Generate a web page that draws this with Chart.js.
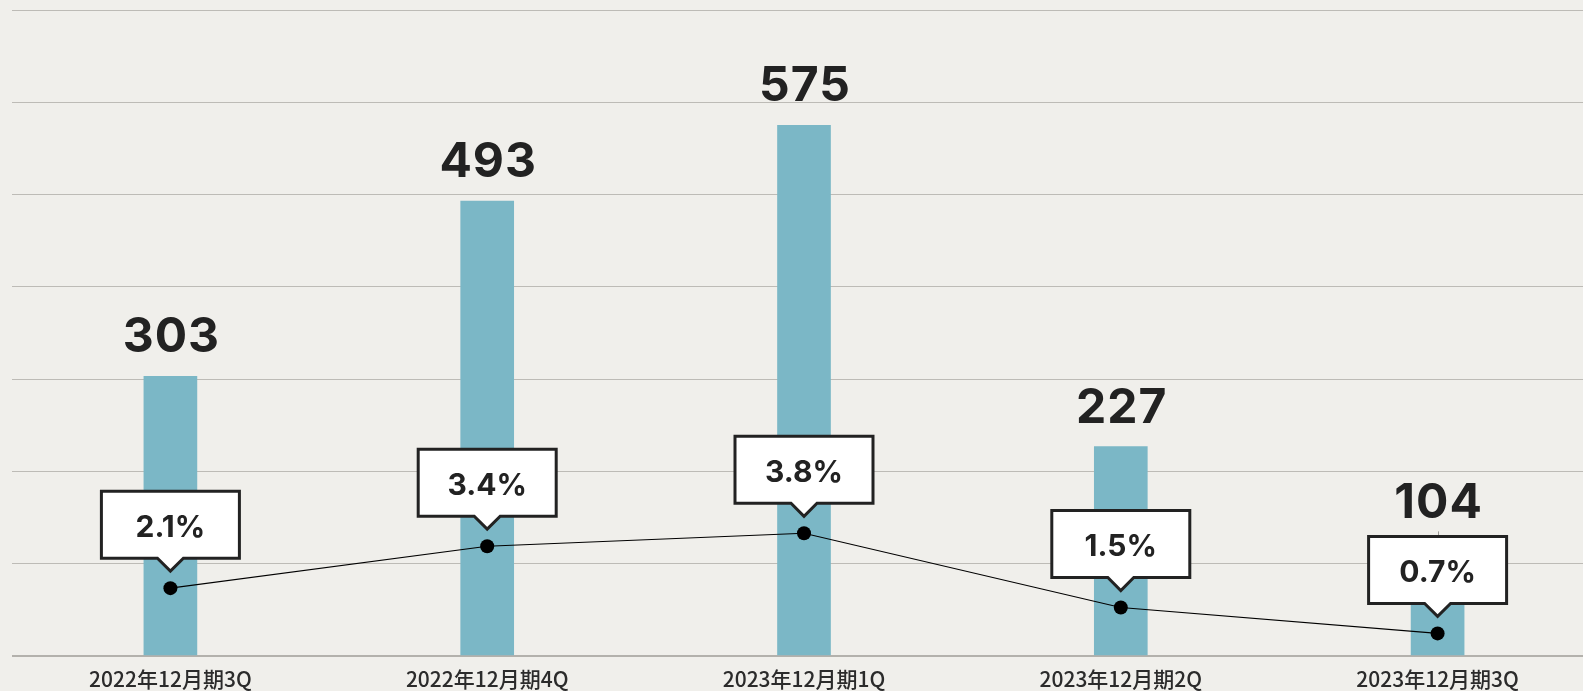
<!DOCTYPE html>
<html>
<head>
<meta charset="utf-8">
<script src="https://cdn.jsdelivr.net/npm/chart.js@4.4.1/dist/chart.umd.min.js"></script>
<style>
  html, body { margin: 0; padding: 0; background: #f0efeb; overflow: hidden; }
  #wrap { width: 1603px; height: 691px; }
</style>
</head>
<body>
<div id="wrap"><canvas id="c" width="1603" height="691"></canvas></div>
<script>
const categories = ['2022年12月期3Q', '2022年12月期4Q', '2023年12月期1Q', '2023年12月期2Q', '2023年12月期3Q'];
const barValues = [303, 493, 575, 227, 104];
const ratioValues = [2.1, 3.4, 3.8, 1.5, 0.7];
const ratioLabels = ['2.1%', '3.4%', '3.8%', '1.5%', '0.7%'];

const BW = 138, BH = 67, PH = 13, PW = 13, GAP = 17;

const valueLabelPlugin = {
  id: 'valueLabels',
  afterDatasetsDraw(chart) {
    const ctx = chart.ctx;
    const barMeta = chart.getDatasetMeta(1);
    const lineMeta = chart.getDatasetMeta(0);
    const boxTops = lineMeta.data.map(pt => pt.y - GAP - PH - BH);

    ctx.save();
    ctx.font = 'bold 48px Inter';
    ctx.letterSpacing = '1px';
    ctx.fillStyle = '#222222';
    ctx.textAlign = 'center';
    ctx.textBaseline = 'alphabetic';
    barMeta.data.forEach((bar, i) => {
      let y = bar.y - 24;
      const limit = boxTops[i] - 18;
      if (y > limit) {
        y = limit;
        ctx.save();
        ctx.strokeStyle = '#9a9894';
        ctx.lineWidth = 1;
        ctx.beginPath();
        ctx.moveTo(Math.round(bar.x) + 0.5, y + 13);
        ctx.lineTo(Math.round(bar.x) + 0.5, boxTops[i]);
        ctx.stroke();
        ctx.restore();
      }
      ctx.fillText(String(barValues[i]), bar.x + 1, y);
    });
    ctx.restore();

    ctx.save();
    lineMeta.data.forEach((pt, i) => {
      const tipY = pt.y - GAP;
      const bottom = tipY - PH;
      const top = bottom - BH;
      const left = pt.x - BW / 2, right = pt.x + BW / 2;
      ctx.beginPath();
      ctx.moveTo(left, top);
      ctx.lineTo(right, top);
      ctx.lineTo(right, bottom);
      ctx.lineTo(pt.x + PW, bottom);
      ctx.lineTo(pt.x, tipY);
      ctx.lineTo(pt.x - PW, bottom);
      ctx.lineTo(left, bottom);
      ctx.closePath();
      ctx.fillStyle = '#ffffff';
      ctx.fill();
      ctx.lineWidth = 3;
      ctx.lineJoin = 'miter';
      ctx.strokeStyle = '#222222';
      ctx.stroke();
      ctx.font = 'bold 30px Inter';
      ctx.fillStyle = '#222222';
      ctx.textAlign = 'center';
      ctx.textBaseline = 'middle';
      ctx.fillText(ratioLabels[i], pt.x, (top + bottom) / 2 + 3);
    });
    ctx.restore();
  }
};

new Chart(document.getElementById('c'), {
  data: {
    labels: categories,
    datasets: [
      {
        type: 'line',
        data: ratioValues,
        yAxisID: 'y2',
        borderColor: '#000000',
        borderWidth: 1.1,
        pointRadius: 7,
        pointBackgroundColor: '#000000',
        pointBorderWidth: 0,
        tension: 0,
        order: 0
      },
      {
        type: 'bar',
        data: barValues,
        yAxisID: 'y',
        backgroundColor: '#7bb7c6',
        barThickness: 53,
        order: 1
      }
    ]
  },
  options: {
    responsive: false,
    animation: false,
    devicePixelRatio: 1,
    layout: { padding: { left: 12, top: 10, right: 0, bottom: 0 } },
    plugins: { legend: { display: false }, tooltip: { enabled: false } },
    scales: {
      x: {
        grid: { display: false, drawTicks: false },
        border: { display: false },
        afterFit: (scale) => { scale.height = 35; },
        ticks: {
          color: '#2b2b2b',
          font: { family: '"Noto Sans CJK JP"', size: 21, weight: '500', lineHeight: 1 },
          padding: 13,
          maxRotation: 0
        }
      },
      y: {
        min: 0, max: 700,
        ticks: { display: false, stepSize: 100 },
        grid: {
          color: (c) => (c.tick && c.tick.value === 0 ? '#b3b1ac' : '#bdbbb6'),
          lineWidth: (c) => (c.tick && c.tick.value === 0 ? 2 : 1),
          drawTicks: false
        },
        border: { display: false }
      },
      y2: {
        display: false,
        position: 'right',
        min: 0, max: 20
      }
    }
  },
  plugins: [valueLabelPlugin]
});
</script>
</body>
</html>
